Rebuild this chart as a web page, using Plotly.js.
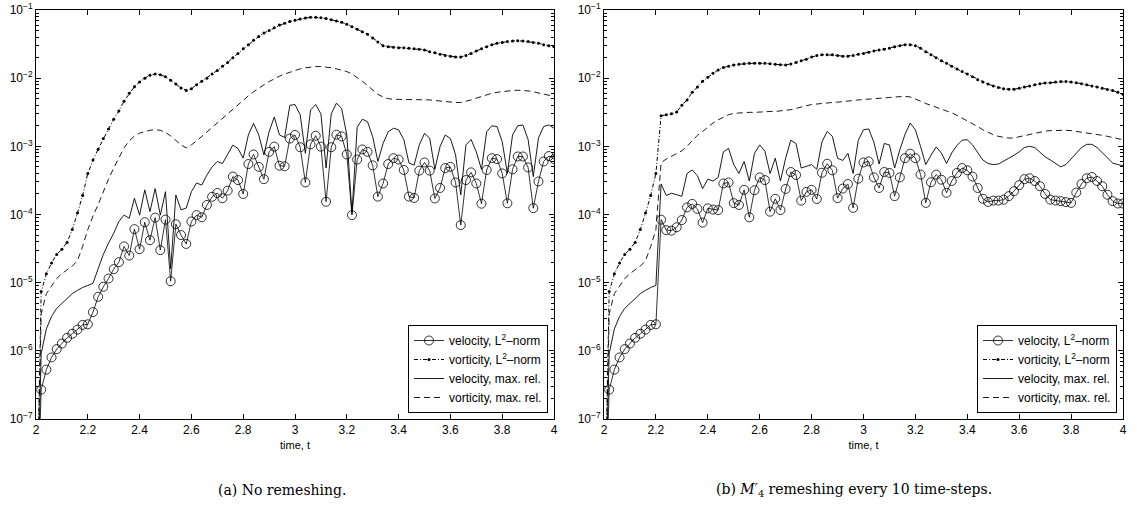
<!DOCTYPE html>
<html>
<head>
<meta charset="utf-8">
<script src="https://cdn.plot.ly/plotly-3.0.1.min.js"></script>
<style>html,body{margin:0;padding:0;background:#fff;}#chart{width:1137px;height:527px;}</style>
</head>
<body>
<div id="chart"></div>
<script>
// time axis (t = 2.00 ... 4.00)
const time = [2.00,2.02,2.04,2.06,2.08,2.10,2.12,2.14,2.16,2.18,2.20,2.22,2.24,2.26,2.28,2.30,2.32,2.34,2.36,2.38,2.40,2.42,2.44,2.46,2.48,2.50,2.52,2.54,2.56,2.58,2.60,2.62,2.64,2.66,2.68,2.70,2.72,2.74,2.76,2.78,2.80,2.82,2.84,2.86,2.88,2.90,2.92,2.94,2.96,2.98,3.00,3.02,3.04,3.06,3.08,3.10,3.12,3.14,3.16,3.18,3.20,3.22,3.24,3.26,3.28,3.30,3.32,3.34,3.36,3.38,3.40,3.42,3.44,3.46,3.48,3.50,3.52,3.54,3.56,3.58,3.60,3.62,3.64,3.66,3.68,3.70,3.72,3.74,3.76,3.78,3.80,3.82,3.84,3.86,3.88,3.90,3.92,3.94,3.96,3.98,4.00];

// (a) No remeshing
const velL2_a = [1e-9,2.7e-7,5.3e-7,8.0e-7,1.06e-6,1.28e-6,1.55e-6,1.78e-6,2.05e-6,2.4e-6,2.45e-6,3.7e-6,6.2e-6,8.7e-6,1.15e-5,1.58e-5,2.0e-5,3.4e-5,2.5e-5,6.1e-5,3.1e-5,7.7e-5,4.2e-5,9.0e-5,3.0e-5,8.4e-5,1.05e-5,7.2e-5,5.0e-5,3.7e-5,7.9e-5,9.8e-5,9.1e-5,1.38e-4,1.82e-4,2.07e-4,1.73e-4,2.24e-4,3.6e-4,3.2e-4,2.0e-4,5.5e-4,7.6e-4,5.0e-4,3.3e-4,8.3e-4,9.9e-4,5.2e-4,5.1e-4,1.3e-3,1.47e-3,9.7e-4,2.95e-4,1.07e-3,1.43e-3,9.9e-4,1.54e-4,9.7e-4,1.48e-3,1.40e-3,7.6e-4,9.8e-5,6.4e-4,9.0e-4,8.3e-4,5.25e-4,1.83e-4,2.85e-4,5.5e-4,6.7e-4,6.4e-4,4.5e-4,1.83e-4,1.75e-4,4.4e-4,5.8e-4,4.4e-4,1.72e-4,2.45e-4,4.8e-4,5.0e-4,2.95e-4,7.0e-5,3.2e-4,4.15e-4,2.85e-4,1.44e-4,4.5e-4,6.7e-4,6.5e-4,4.0e-4,1.46e-4,4.6e-4,7.1e-4,7.1e-4,4.9e-4,1.24e-4,3.05e-4,6.0e-4,7.2e-4,6.5e-4];
const vorL2_a = [1e-9,7.4e-6,1.35e-5,1.95e-5,2.6e-5,3.1e-5,3.9e-5,6.0e-5,1.05e-4,1.9e-4,4.0e-4,6.3e-4,9.1e-4,1.3e-3,1.8e-3,2.5e-3,3.3e-3,4.6e-3,6.0e-3,7.5e-3,8.8e-3,1.0e-2,1.1e-2,1.15e-2,1.12e-2,1.05e-2,9.3e-3,8.2e-3,7.2e-3,6.6e-3,7.0e-3,8.0e-3,9.0e-3,1.0e-2,1.15e-2,1.3e-2,1.5e-2,1.7e-2,2.0e-2,2.3e-2,2.7e-2,3.1e-2,3.6e-2,4.1e-2,4.6e-2,5.0e-2,5.5e-2,6.0e-2,6.4e-2,6.8e-2,7.1e-2,7.4e-2,7.6e-2,7.8e-2,7.8e-2,7.7e-2,7.5e-2,7.2e-2,6.9e-2,6.6e-2,6.2e-2,5.7e-2,5.2e-2,4.8e-2,4.4e-2,3.9e-2,3.4e-2,3.0e-2,2.9e-2,2.85e-2,2.8e-2,2.8e-2,2.75e-2,2.7e-2,2.65e-2,2.6e-2,2.45e-2,2.35e-2,2.25e-2,2.15e-2,2.1e-2,2.05e-2,2.05e-2,2.15e-2,2.3e-2,2.5e-2,2.7e-2,2.9e-2,3.1e-2,3.25e-2,3.35e-2,3.45e-2,3.5e-2,3.55e-2,3.5e-2,3.45e-2,3.35e-2,3.25e-2,3.1e-2,3.0e-2,2.9e-2];
const velMax_a = [1e-9,9.1e-7,2.1e-6,3.2e-6,4.2e-6,5.0e-6,6.0e-6,6.9e-6,7.7e-6,8.5e-6,9.1e-6,9.8e-6,1.6e-5,2.6e-5,3.8e-5,5.3e-5,7.9e-5,9.8e-5,8.8e-5,1.73e-4,9.8e-5,2.3e-4,1.1e-4,2.4e-4,9.8e-5,2.16e-4,1.6e-5,1.93e-4,1.17e-4,1.24e-4,2.16e-4,2.9e-4,2.7e-4,3.8e-4,5.0e-4,6.0e-4,5.6e-4,7.5e-4,1.04e-3,9.3e-4,6.7e-4,1.47e-3,2.17e-3,1.47e-3,7.5e-4,1.64e-3,2.7e-3,1.47e-3,1.35e-3,4.0e-3,4.1e-3,2.9e-3,7.9e-4,3.4e-3,4.1e-3,3.0e-3,4.8e-4,3.0e-3,4.3e-3,3.6e-3,1.47e-3,1.05e-4,1.9e-3,2.5e-3,2.3e-3,1.38e-3,6.0e-4,1.1e-3,1.64e-3,1.84e-3,1.75e-3,1.26e-3,5.7e-4,5.3e-4,1.05e-3,1.55e-3,1.32e-3,4.6e-4,9.9e-4,1.47e-3,1.3e-3,7.5e-4,1.94e-4,1.05e-3,1.26e-3,8.3e-4,4.6e-4,1.64e-3,2.0e-3,1.95e-3,1.17e-3,4.0e-4,1.47e-3,2.0e-3,2.06e-3,1.26e-3,3.6e-4,1.32e-3,1.95e-3,2.06e-3,1.84e-3];
const vorMax_a = [1e-9,3.5e-6,6.9e-6,9.1e-6,1.15e-5,1.36e-5,1.55e-5,1.75e-5,2.1e-5,3.4e-5,6.0e-5,9.5e-5,1.4e-4,2.2e-4,3.3e-4,4.8e-4,6.8e-4,9.5e-4,1.2e-3,1.42e-3,1.56e-3,1.66e-3,1.72e-3,1.75e-3,1.72e-3,1.6e-3,1.42e-3,1.22e-3,1.05e-3,9.5e-4,1.05e-3,1.2e-3,1.4e-3,1.62e-3,1.9e-3,2.25e-3,2.6e-3,3.0e-3,3.5e-3,4.1e-3,4.8e-3,5.5e-3,6.3e-3,7.2e-3,8.0e-3,8.9e-3,9.8e-3,1.07e-2,1.15e-2,1.22e-2,1.3e-2,1.37e-2,1.42e-2,1.46e-2,1.48e-2,1.48e-2,1.46e-2,1.42e-2,1.37e-2,1.32e-2,1.25e-2,1.15e-2,1.03e-2,9.0e-3,7.8e-3,6.7e-3,5.8e-3,5.3e-3,5.0e-3,4.9e-3,4.9e-3,4.9e-3,4.9e-3,4.9e-3,4.9e-3,4.85e-3,4.8e-3,4.7e-3,4.6e-3,4.5e-3,4.45e-3,4.4e-3,4.4e-3,4.55e-3,4.8e-3,5.1e-3,5.4e-3,5.7e-3,6.0e-3,6.2e-3,6.35e-3,6.5e-3,6.6e-3,6.65e-3,6.6e-3,6.5e-3,6.3e-3,6.1e-3,5.9e-3,5.6e-3,5.4e-3];

// (b) M4' remeshing every 10 time-steps
const velL2_b = [1e-9,2.7e-7,5.3e-7,8.0e-7,1.06e-6,1.28e-6,1.55e-6,1.78e-6,2.05e-6,2.4e-6,2.45e-6,8.4e-5,5.9e-5,5.8e-5,6.5e-5,8.3e-5,1.27e-4,1.43e-4,1.21e-4,7.6e-5,1.23e-4,1.18e-4,1.16e-4,2.85e-4,2.95e-4,1.47e-4,1.38e-4,2.3e-4,9.1e-5,2.27e-4,3.5e-4,3.2e-4,1.1e-4,1.7e-4,1.16e-4,2.37e-4,4.2e-4,3.8e-4,1.6e-4,2.15e-4,2.3e-4,1.69e-4,4.1e-4,5.55e-4,4.45e-4,1.74e-4,2.4e-4,2.8e-4,1.25e-4,3.35e-4,5.8e-4,6.0e-4,3.5e-4,2.45e-4,4.2e-4,4.07e-4,1.86e-4,3.5e-4,6.7e-4,7.8e-4,6.7e-4,3.85e-4,1.48e-4,2.97e-4,3.85e-4,3.24e-4,2.08e-4,3.1e-4,4.07e-4,4.8e-4,4.45e-4,3.6e-4,2.45e-4,1.7e-4,1.53e-4,1.6e-4,1.6e-4,1.65e-4,1.86e-4,2.2e-4,2.7e-4,3.3e-4,3.4e-4,3.1e-4,2.6e-4,2.0e-4,1.65e-4,1.6e-4,1.57e-4,1.52e-4,1.48e-4,2.1e-4,2.8e-4,3.4e-4,3.55e-4,3.1e-4,2.6e-4,1.95e-4,1.57e-4,1.45e-4,1.45e-4];
const vorL2_b = [1e-9,7.4e-6,1.35e-5,1.95e-5,2.6e-5,3.1e-5,3.9e-5,6.0e-5,1.05e-4,1.9e-4,4.0e-4,2.8e-3,2.9e-3,3.0e-3,3.2e-3,4.0e-3,4.8e-3,6.2e-3,7.4e-3,9.0e-3,1.03e-2,1.18e-2,1.32e-2,1.43e-2,1.5e-2,1.56e-2,1.6e-2,1.63e-2,1.65e-2,1.66e-2,1.66e-2,1.65e-2,1.63e-2,1.6e-2,1.57e-2,1.56e-2,1.62e-2,1.7e-2,1.8e-2,1.9e-2,2.05e-2,2.15e-2,2.2e-2,2.2e-2,2.2e-2,2.15e-2,2.1e-2,2.1e-2,2.15e-2,2.25e-2,2.3e-2,2.4e-2,2.5e-2,2.6e-2,2.66e-2,2.75e-2,2.9e-2,3.0e-2,3.1e-2,3.1e-2,3.0e-2,2.75e-2,2.45e-2,2.2e-2,2.0e-2,1.8e-2,1.66e-2,1.5e-2,1.36e-2,1.25e-2,1.15e-2,1.05e-2,9.5e-3,8.8e-3,8.2e-3,7.7e-3,7.3e-3,7.0e-3,6.9e-3,6.9e-3,7.1e-3,7.4e-3,7.7e-3,8.0e-3,8.3e-3,8.5e-3,8.6e-3,8.8e-3,8.9e-3,8.9e-3,8.8e-3,8.6e-3,8.3e-3,8.0e-3,7.7e-3,7.4e-3,7.1e-3,6.8e-3,6.6e-3,6.2e-3,5.8e-3];
const velMax_b = [1e-9,9.1e-7,2.1e-6,3.2e-6,4.2e-6,5.0e-6,6.0e-6,6.9e-6,7.7e-6,8.5e-6,9.1e-6,2.8e-4,1.9e-4,2.05e-4,1.95e-4,1.85e-4,4.0e-4,4.5e-4,3.7e-4,2.4e-4,3.3e-4,3.1e-4,3.5e-4,8.3e-4,9.3e-4,5.4e-4,4.0e-4,6.0e-4,3.1e-4,7.9e-4,1.05e-3,8.5e-4,4.0e-4,6.7e-4,3.1e-4,6.7e-4,1.23e-3,1.1e-3,4.8e-4,5.1e-4,5.4e-4,4.6e-4,1.17e-3,1.65e-3,1.4e-3,6.7e-4,6.2e-4,7.9e-4,4.0e-4,1.23e-3,1.75e-3,1.8e-3,1.15e-3,5.5e-4,1.1e-3,1.05e-3,4.8e-4,8.9e-4,1.5e-3,2.2e-3,1.74e-3,9.9e-4,5.4e-4,7.4e-4,9.8e-4,8.0e-4,5.6e-4,8.0e-4,1.03e-3,1.23e-3,1.25e-3,1.05e-3,8.0e-4,6.3e-4,5.6e-4,5.4e-4,5.5e-4,6.0e-4,6.7e-4,7.4e-4,8.3e-4,9.6e-4,1.0e-3,9.6e-4,8.3e-4,7.0e-4,6.3e-4,5.6e-4,5.0e-4,5.4e-4,6.5e-4,8.0e-4,9.6e-4,1.07e-3,1.07e-3,9.6e-4,8.0e-4,6.7e-4,5.7e-4,5.4e-4,5.2e-4];
const vorMax_b = [1e-9,3.5e-6,6.9e-6,9.1e-6,1.15e-5,1.36e-5,1.55e-5,1.75e-5,2.1e-5,3.4e-5,6.0e-5,5.8e-4,6.5e-4,7.1e-4,7.8e-4,8.6e-4,1.0e-3,1.2e-3,1.45e-3,1.65e-3,1.9e-3,2.2e-3,2.45e-3,2.7e-3,2.9e-3,3.05e-3,3.1e-3,3.15e-3,3.15e-3,3.15e-3,3.2e-3,3.2e-3,3.25e-3,3.25e-3,3.3e-3,3.35e-3,3.45e-3,3.6e-3,3.8e-3,3.95e-3,4.1e-3,4.2e-3,4.3e-3,4.35e-3,4.4e-3,4.45e-3,4.5e-3,4.6e-3,4.7e-3,4.8e-3,4.85e-3,4.9e-3,5.0e-3,5.05e-3,5.1e-3,5.2e-3,5.3e-3,5.35e-3,5.4e-3,5.3e-3,5.0e-3,4.6e-3,4.25e-3,4.0e-3,3.75e-3,3.5e-3,3.3e-3,3.1e-3,2.85e-3,2.6e-3,2.4e-3,2.15e-3,1.95e-3,1.75e-3,1.6e-3,1.48e-3,1.4e-3,1.35e-3,1.32e-3,1.33e-3,1.38e-3,1.45e-3,1.52e-3,1.58e-3,1.63e-3,1.67e-3,1.7e-3,1.72e-3,1.72e-3,1.72e-3,1.7e-3,1.66e-3,1.6e-3,1.55e-3,1.52e-3,1.5e-3,1.45e-3,1.4e-3,1.35e-3,1.3e-3,1.25e-3];

const seriesNames = ['velocity, L<sup>2</sup>\u2013norm','vorticity, L<sup>2</sup>\u2013norm','velocity, max. rel.','vorticity, max. rel.'];
const xTicks = [2,2.2,2.4,2.6,2.8,3,3.2,3.4,3.6,3.8,4];
const xTickText = ['2','2.2','2.4','2.6','2.8','3','3.2','3.4','3.6','3.8','4'];
const yTicks = [1e-7,1e-6,1e-5,1e-4,1e-3,1e-2,1e-1];
const yTickText = ['10<sup>\u22127</sup>','10<sup>\u22126</sup>','10<sup>\u22125</sup>','10<sup>\u22124</sup>','10<sup>\u22123</sup>','10<sup>\u22122</sup>','10<sup>\u22121</sup>'];
const xTitle = 'time, t';
const captions = ['(a) No remeshing.','(b) <i>M</i>\u2032<sub>4</sub> remeshing every 10 time-steps.'];

function makeTraces(vl2, wl2, vmax, wmax, xa, ya, leg) {
  return [
    {x: time, y: vl2, name: seriesNames[0], type: 'scatter', mode: 'lines+markers', xaxis: xa, yaxis: ya, legend: leg,
     line: {color: '#000', width: 0.8}, marker: {symbol: 'circle-open', size: 9, color: '#000', line: {width: 0.8, color: '#000'}}},
    {x: time, y: wl2, name: seriesNames[1], type: 'scatter', mode: 'lines+markers', xaxis: xa, yaxis: ya, legend: leg,
     line: {color: '#000', width: 1, dash: '4px,2px,1px,2px'}, marker: {symbol: 'circle', size: 3, color: '#000'}},
    {x: time, y: vmax, name: seriesNames[2], type: 'scatter', mode: 'lines', xaxis: xa, yaxis: ya, legend: leg,
     line: {color: '#000', width: 0.9}},
    {x: time, y: wmax, name: seriesNames[3], type: 'scatter', mode: 'lines', xaxis: xa, yaxis: ya, legend: leg,
     line: {color: '#000', width: 0.9, dash: '6px,4px'}}
  ];
}

const data = [].concat(
  makeTraces(velL2_a, vorL2_a, velMax_a, vorMax_a, 'x', 'y', 'legend'),
  makeTraces(velL2_b, vorL2_b, velMax_b, vorMax_b, 'x2', 'y2', 'legend2')
);

const W = 1137, H = 527;
const FAMILY = 'Liberation Sans, Arial, Helvetica, sans-serif';
const tickFont = {family: FAMILY, size: 12, color: '#000'};
const titleFont = {family: FAMILY, size: 11, color: '#000'};
const legendFont = {family: FAMILY, size: 12, color: '#000'};
const captionFont = {family: 'DejaVu Serif, Liberation Serif, serif', size: 14, color: '#000'};

function xAxis(domain, yanchor) {
  return {domain: domain, anchor: yanchor, range: [2, 4], tickmode: 'array', tickvals: xTicks, ticktext: xTickText,
    ticks: 'inside', ticklen: 5, tickwidth: 1, tickcolor: '#000', showline: true, linecolor: '#000', linewidth: 1,
    mirror: 'allticks', showgrid: false, zeroline: false, automargin: false, tickfont: tickFont,
    title: {text: xTitle, font: titleFont, standoff: 4}};
}
function yAxis(xanchor) {
  return {domain: [1 - 419 / H, 1 - 10 / H], anchor: xanchor, type: 'log', range: [-7, -1],
    tickmode: 'array', tickvals: yTicks, ticktext: yTickText,
    ticks: 'inside', ticklen: 5, tickwidth: 1, tickcolor: '#000', showline: true, linecolor: '#000', linewidth: 1,
    mirror: 'allticks', showgrid: false, zeroline: false, automargin: false, tickfont: tickFont,
    minor: {ticks: 'inside', ticklen: 3, tickcolor: '#000', showgrid: false, dtick: 'D1'}};
}
function legendAt(xr) {
  return {x: xr / W, y: 1 - 413 / H, xanchor: 'right', yanchor: 'bottom', bgcolor: '#fff', bordercolor: '#000',
    borderwidth: 1, font: legendFont, itemwidth: 30, tracegroupgap: 0, traceorder: 'normal'};
}

const layout = {
  width: W, height: H, margin: {l: 0, r: 0, t: 0, b: 0, pad: 0},
  paper_bgcolor: '#fff', plot_bgcolor: '#fff', font: {family: FAMILY, size: 12, color: '#000'}, showlegend: true,
  xaxis: xAxis([36 / W, 554 / W], 'y'),
  yaxis: yAxis('x'),
  xaxis2: xAxis([604 / W, 1123 / W], 'y2'),
  yaxis2: yAxis('x2'),
  legend: legendAt(548),
  legend2: legendAt(1117),
  annotations: [
    {text: captions[0], xref: 'paper', yref: 'paper', x: 282 / W, y: 1 - 490 / H, xanchor: 'center', yanchor: 'middle',
     showarrow: false, font: captionFont},
    {text: captions[1], xref: 'paper', yref: 'paper', x: 854 / W, y: 1 - 490 / H, xanchor: 'center', yanchor: 'middle',
     showarrow: false, font: captionFont}
  ]
};

Plotly.newPlot('chart', data, layout, {displayModeBar: false});
</script>
</body>
</html>
